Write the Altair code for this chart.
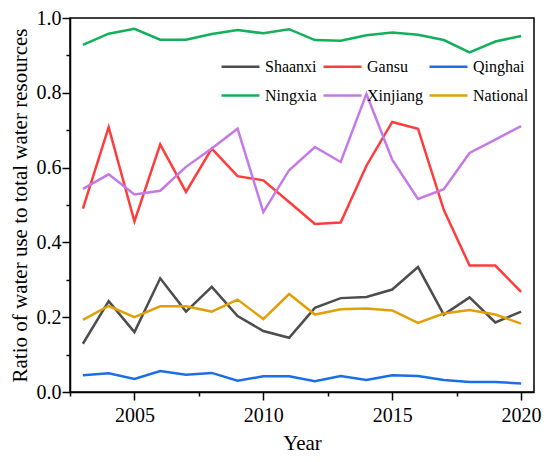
import altair as alt
import pandas as pd

years = list(range(2003, 2021))
# legend fills column by column: (Shaanxi, Ningxia), (Gansu, Xinjiang), (Qinghai, National)
series_names = ["Shaanxi", "Ningxia", "Gansu", "Xinjiang", "Qinghai", "National"]
colors = ["#4d4d4d", "#12b05a", "#ff3c3c", "#c47ae6", "#1a6fe8", "#e0a00a"]

shaanxi = [0.129, 0.243, 0.160, 0.304, 0.215, 0.281, 0.203, 0.163, 0.145,
           0.225, 0.251, 0.254, 0.274, 0.334, 0.207, 0.253, 0.186, 0.215]
gansu = [0.490, 0.708, 0.456, 0.662, 0.535, 0.651, 0.577, 0.566, 0.508,
         0.449, 0.453, 0.605, 0.722, 0.704, 0.487, 0.338, 0.338, 0.268]
qinghai = [0.045, 0.050, 0.035, 0.056, 0.046, 0.051, 0.030, 0.042, 0.042,
           0.029, 0.043, 0.032, 0.045, 0.043, 0.032, 0.027, 0.027, 0.023]
ningxia = [0.928, 0.958, 0.971, 0.942, 0.942, 0.957, 0.968, 0.959, 0.970,
           0.941, 0.939, 0.954, 0.961, 0.955, 0.941, 0.908, 0.937, 0.952]
xinjiang = [0.543, 0.582, 0.528, 0.538, 0.602, 0.651, 0.704, 0.481, 0.593,
            0.655, 0.615, 0.797, 0.621, 0.516, 0.542, 0.639, 0.675, 0.711]
national = [0.193, 0.230, 0.200, 0.229, 0.229, 0.215, 0.247, 0.195, 0.262,
            0.207, 0.221, 0.223, 0.218, 0.185, 0.210, 0.219, 0.207, 0.183]

x_ticks = [2002.5, 2005, 2007.5, 2010, 2012.5, 2015, 2017.5, 2020]
y_ticks = [0.0, 0.1, 0.2, 0.3, 0.4, 0.5, 0.6, 0.7, 0.8, 0.9, 1.0]

values = {"Shaanxi": shaanxi, "Gansu": gansu, "Qinghai": qinghai,
          "Ningxia": ningxia, "Xinjiang": xinjiang, "National": national}
rows = []
for name, vals in values.items():
    for yr, v in zip(years, vals):
        rows.append({"Year": yr, "Region": name, "Ratio": v})
df = pd.DataFrame(rows)

FONT = "Times New Roman"

chart = alt.Chart(df).mark_line(strokeWidth=2.5).encode(
    x=alt.X("Year:Q",
            scale=alt.Scale(domain=[2002.5, 2020.5], nice=False, zero=False),
            axis=alt.Axis(
                title="Year", values=x_ticks,
                labelExpr="datum.value % 5 === 0 ? format(datum.value, 'd') : ''",
                tickSize={"condition": {"test": "datum.value % 5 === 0", "value": 8}, "value": 4},
                labelFont=FONT, titleFont=FONT,
                labelPadding=5, titlePadding=7, grid=False)),
    y=alt.Y("Ratio:Q",
            scale=alt.Scale(domain=[0, 1], nice=False),
            axis=alt.Axis(
                title="Ratio of water use to total water resources", values=y_ticks,
                labelExpr="round(datum.value * 10) % 2 === 0 ? format(datum.value, '.1f') : ''",
                tickSize={"condition": {"test": "round(datum.value * 10) % 2 === 0", "value": 8}, "value": 4},
                labelFont=FONT, titleFont=FONT,
                labelPadding=1, titlePadding=6, grid=False)),
    color=alt.Color("Region:N",
                    scale=alt.Scale(domain=series_names, range=colors),
                    sort=series_names,
                    legend=alt.Legend(
                        title=None, orient="none", legendX=150, legendY=28,
                        columns=3, symbolType="stroke", symbolSize=1444,
                        symbolStrokeWidth=2.5, labelFontSize=16, labelFont=FONT,
                        labelColor="black", labelOffset=4, columnPadding=1,
                        rowPadding=-16, padding=0, labelLimit=200)),
).properties(
    width=464, height=374,
    autosize="none",
    padding={"left": 62, "top": 10, "right": 8, "bottom": 62},
).configure(
    font=FONT,
).configure_view(
    stroke="black", strokeWidth=1.5
).configure_axis(
    labelFontSize=20, titleFontSize=21,
    labelColor="black", titleColor="black", titleFontWeight="normal",
    domainColor="black", domainWidth=1.5, tickColor="black", tickWidth=1.5,
)

chart.save("out.html", embed_options={"renderer": "svg", "actions": False})
